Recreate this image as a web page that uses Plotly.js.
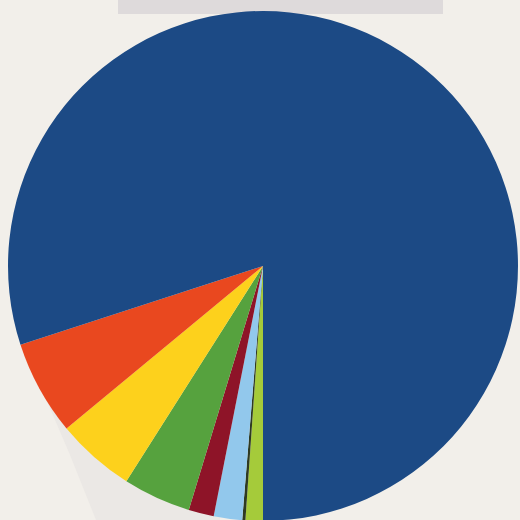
<!DOCTYPE html>
<html>
<head>
<meta charset="utf-8">
<script src="https://cdn.plot.ly/plotly-3.0.1.min.js"></script>
<style>
html,body{margin:0;padding:0;background:#f2efea;overflow:hidden;width:520px;height:520px;}
#chart{position:absolute;left:0;top:0;width:540px;height:540px;}
</style>
</head>
<body>
<div id="chart"></div>
<script>
// Slice categories (clockwise from 6 o'clock)
const categories = ["Lime", "Dark olive", "Light blue", "Dark red", "Green", "Yellow", "Orange", "Blue"];
const values = [1.1, 0.2, 1.8, 1.6, 4.3, 5.0, 6.0, 80.0];
const colors = ["#a5cb3a", "#2e3a22", "#92c8ec", "#8e1428", "#56a23e", "#fdd11c", "#e9481f", "#1c4a85"];

const W = 540, H = 540;
const trace = {
  type: "pie",
  labels: categories,
  values: values,
  sort: false,
  direction: "clockwise",
  rotation: 180,
  textinfo: "none",
  hoverinfo: "label+percent",
  marker: {colors: colors, line: {width: 0}},
  domain: {x: [8 / W, 518 / W], y: [19 / H, 529 / H]}
};

function px(x) { return (x / W).toFixed(4); }
function py(y) { return (1 - y / H).toFixed(4); }
const shadowPath = "M " + px(14) + " " + py(295) +
  " L " + px(40) + " " + py(385) +
  " L " + px(70) + " " + py(455) +
  " L " + px(98) + " " + py(525) +
  " L " + px(220) + " " + py(525) +
  " L " + px(220) + " " + py(290) + " Z";

const layout = {
  width: W,
  height: H,
  margin: {l: 0, r: 0, t: 0, b: 0},
  paper_bgcolor: "#f2efea",
  plot_bgcolor: "#f2efea",
  showlegend: false,
  shapes: [
    {type: "rect", xref: "paper", yref: "paper", layer: "below",
     x0: 118 / W, x1: 443 / W, y0: 1 - 14 / H, y1: 1,
     fillcolor: "#dedadb", line: {width: 0}},
    {type: "path", xref: "paper", yref: "paper", layer: "below",
     path: shadowPath, fillcolor: "#ebe8e5", line: {width: 0}}
  ]
};

Plotly.newPlot("chart", [trace], layout, {staticPlot: true, displayModeBar: false});
</script>
</body>
</html>
